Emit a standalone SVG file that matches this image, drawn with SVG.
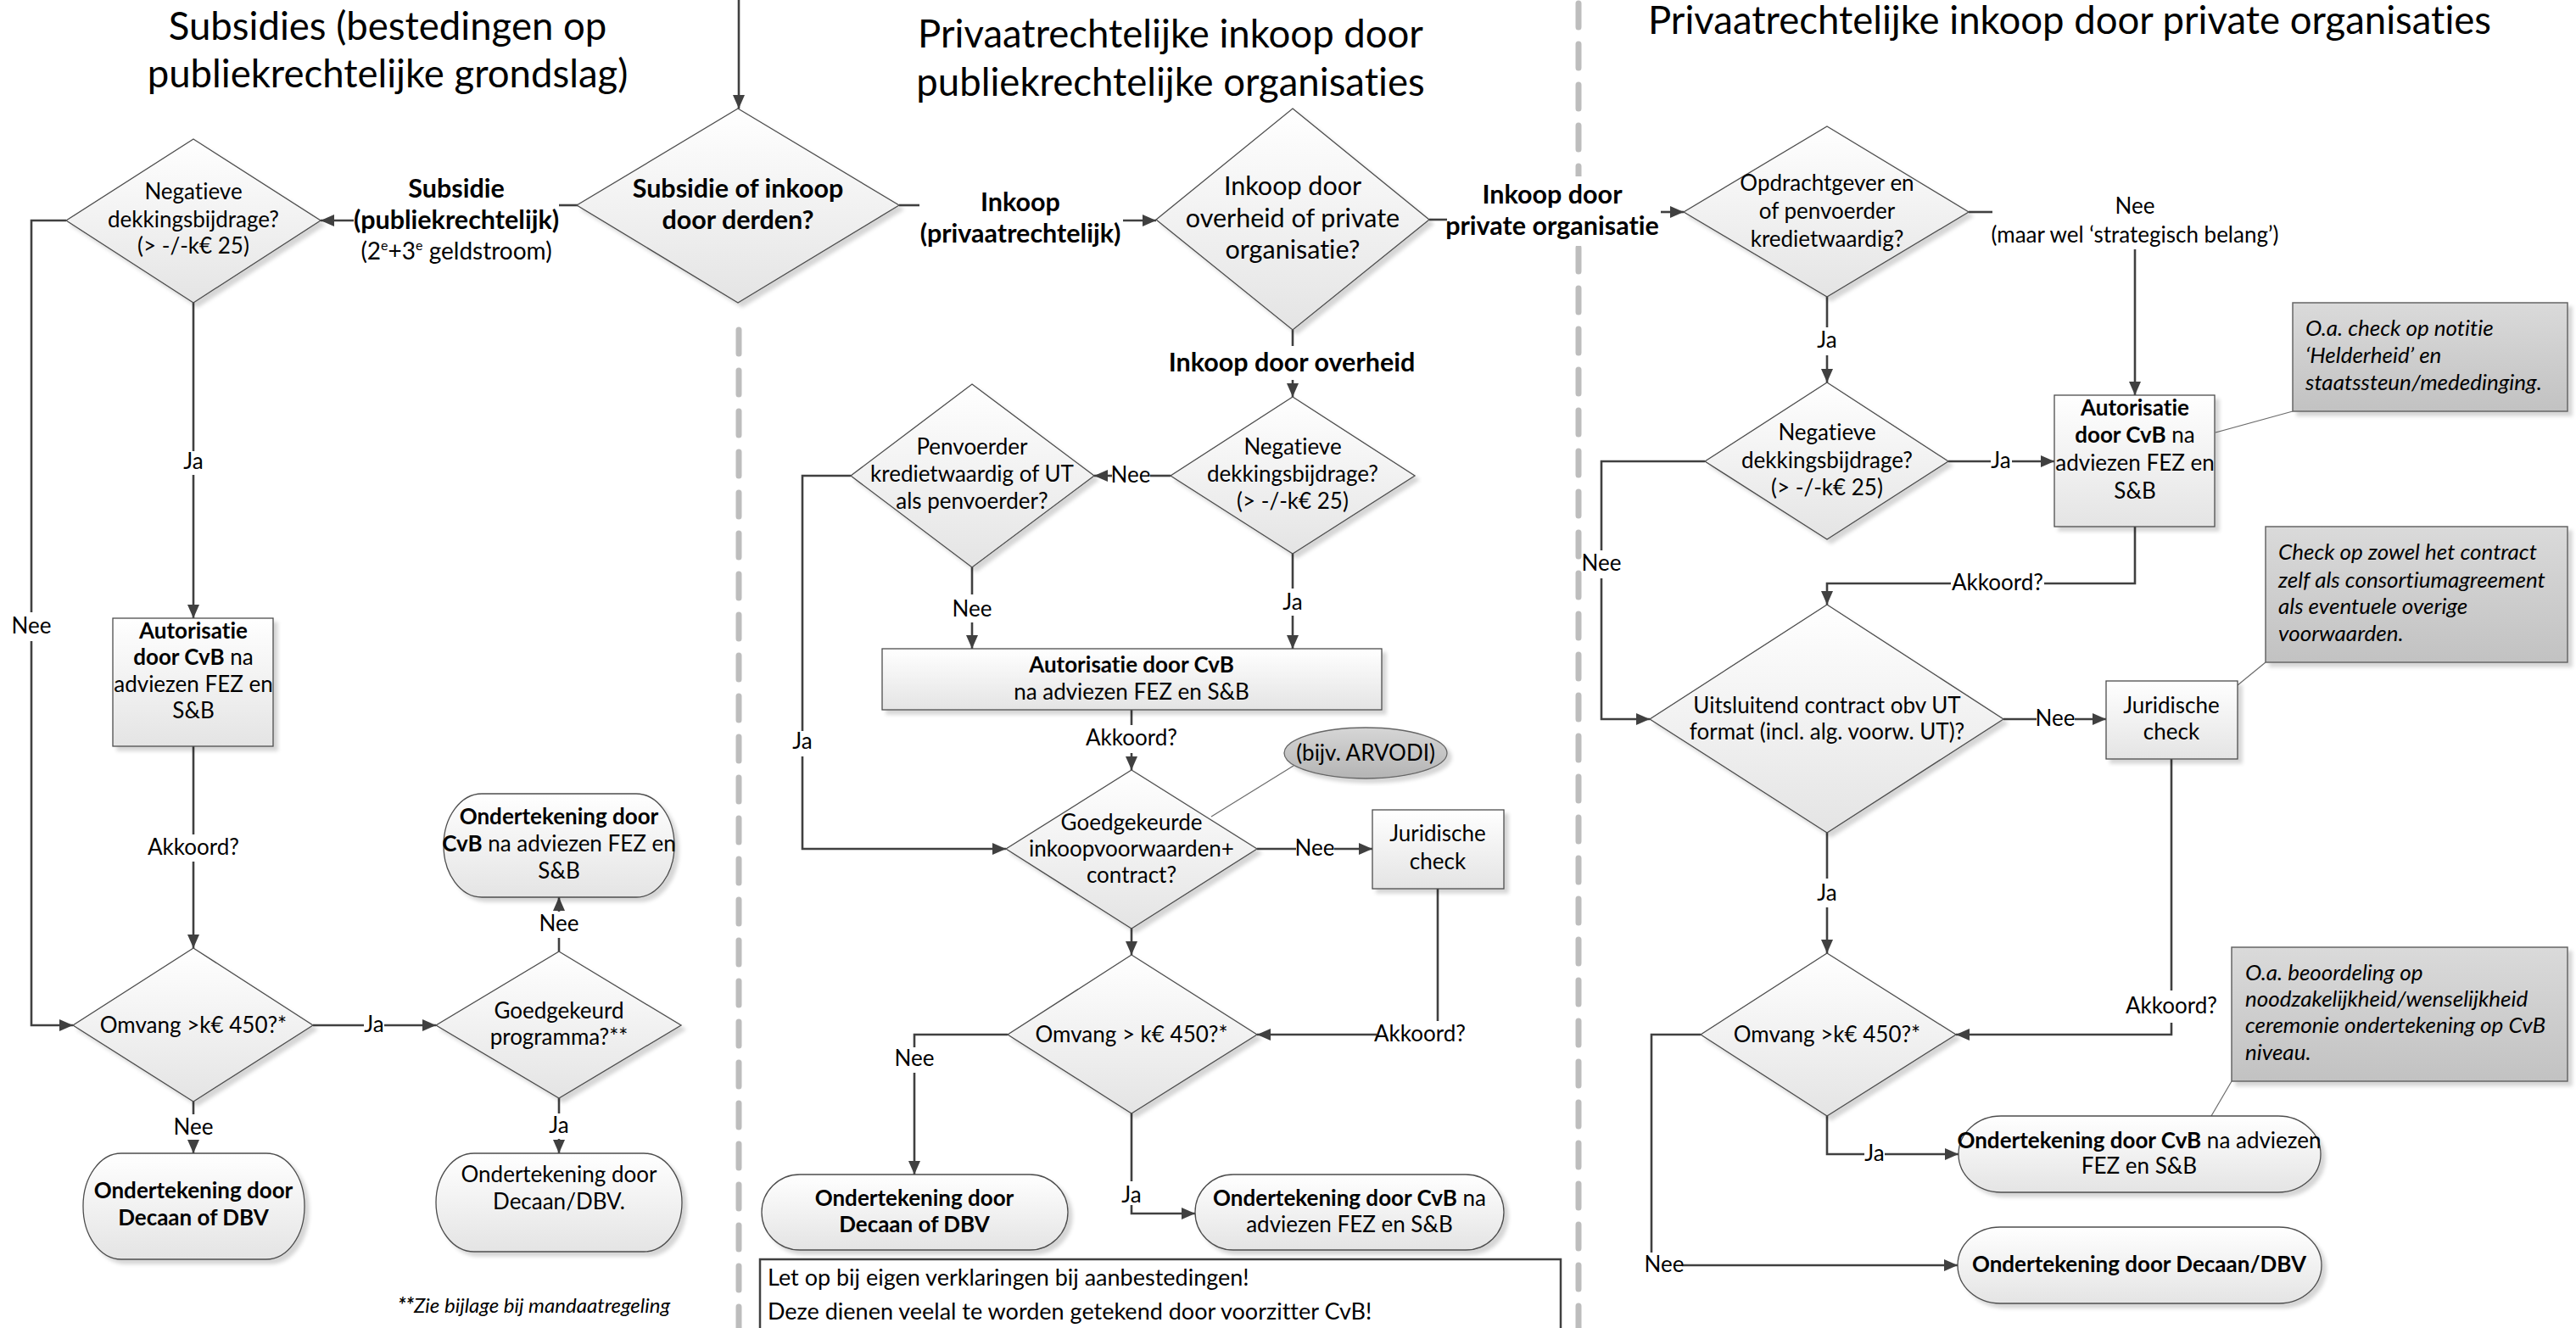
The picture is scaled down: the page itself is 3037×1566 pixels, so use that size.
<svg xmlns="http://www.w3.org/2000/svg" width="3037" height="1566" viewBox="0 0 3037 1566">
<defs>
<linearGradient id="gShape" x1="0" y1="0" x2="0" y2="1"><stop offset="0" stop-color="#ffffff"/><stop offset="1" stop-color="#e4e4e4"/></linearGradient>
<linearGradient id="gNote" x1="0" y1="0" x2="0" y2="1"><stop offset="0" stop-color="#dadada"/><stop offset="1" stop-color="#c2c2c2"/></linearGradient>
<linearGradient id="gEll" x1="0" y1="0" x2="0" y2="1"><stop offset="0" stop-color="#d6d6d6"/><stop offset="1" stop-color="#b4b4b4"/></linearGradient>
<filter id="sh" x="-10%" y="-10%" width="125%" height="125%"><feDropShadow dx="5" dy="5" stdDeviation="2" flood-color="#000" flood-opacity="0.16"/></filter>
<marker id="ar" markerUnits="userSpaceOnUse" viewBox="0 0 16 16" markerWidth="16" markerHeight="16" refX="16" refY="8" orient="auto"><path d="M0,1 L16,8 L0,15 z" fill="#404040"/></marker>
<style>
text{font-family:Lato,"Liberation Sans",sans-serif;fill:#000;font-variant-ligatures:none}
.t{font-size:26px;text-anchor:middle}
.b{font-weight:bold}
.L{font-size:30.5px;text-anchor:middle}
.title{font-size:45.5px;text-anchor:middle}
.it{font-size:26px;font-style:italic}
.shape{fill:url(#gShape);stroke:#4d4d4d;stroke-width:1.3;filter:url(#sh)}
.note{fill:url(#gNote);stroke:#666;stroke-width:1.5;filter:url(#sh)}
.c{fill:none;stroke:#404040;stroke-width:2.6}
.ca{fill:none;stroke:#404040;stroke-width:2.6;marker-end:url(#ar)}
.thin{fill:none;stroke:#6b6b6b;stroke-width:1.2}
.sep{fill:none;stroke:#bdbdbd;stroke-width:7;stroke-linecap:round;stroke-dasharray:28 20}
</style>
</defs>
<rect width="3037" height="1566" fill="#fff"/>

<g id="separators">
<path class="sep" d="M871,389 V1566"/>
<path class="sep" d="M1861,4 V1566"/>
</g>

<g id="titles">
<text class="title" x="457" y="47">Subsidies (bestedingen op</text>
<text class="title" x="457" y="103">publiekrechtelijke grondslag)</text>
<text class="title" x="1380" y="56">Privaatrechtelijke inkoop door</text>
<text class="title" x="1380" y="113">publiekrechtelijke organisaties</text>
<text class="title" x="2440" y="40">Privaatrechtelijke inkoop door private organisaties</text>
</g>

<g id="connectors">
<path class="ca" d="M871,0 V128"/>
<path class="c" d="M681,242 H659"/>
<path class="ca" d="M417,260 H378"/>
<path class="c" d="M228,357 V532"/>
<path class="ca" d="M228,560 V729"/>
<path class="c" d="M78,260 H37 V722"/>
<path class="ca" d="M37,756 V1209 H86"/>
<path class="c" d="M228,880 V984"/>
<path class="ca" d="M228,1016 V1118"/>
<path class="c" d="M369,1209 H429"/>
<path class="ca" d="M453,1209 H514"/>
<path class="c" d="M659,1122 V1106"/>
<path class="ca" d="M659,1075 V1058"/>
<path class="c" d="M659,1295 V1313"/>
<path class="ca" d="M659,1343 V1360"/>
<path class="c" d="M228,1299 V1314"/>
<path class="ca" d="M228,1345 V1360"/>

<path class="c" d="M1060,242 H1084"/>
<path class="ca" d="M1324,260 H1363"/>
<path class="c" d="M1685,259 H1706"/>
<path class="ca" d="M1958,250 H1985"/>
<path class="c" d="M1524,389 V408"/>
<path class="ca" d="M1524,448 V468"/>
<path class="c" d="M1380,561 H1356"/>
<path class="ca" d="M1311,561 H1290"/>
<path class="c" d="M1003,561 H946 V862"/>
<path class="ca" d="M946,892 V1001 H1186"/>
<path class="c" d="M1146,669 V701"/>
<path class="ca" d="M1146,734 V765"/>
<path class="c" d="M1524,653 V694"/>
<path class="ca" d="M1524,726 V765"/>
<path class="c" d="M1334,837 V855"/>
<path class="ca" d="M1334,888 V908"/>
<path class="c" d="M1482,1001 H1528"/>
<path class="ca" d="M1573,1001 H1618"/>
<path class="thin" d="M1525,903 L1428,963"/>
<path class="c" d="M1695,1048 V1204"/>
<path class="ca" d="M1623,1220 H1482"/>
<path class="ca" d="M1334,1095 V1126"/>
<path class="c" d="M1188,1220 H1078 V1235"/>
<path class="ca" d="M1078,1265 V1385"/>
<path class="c" d="M1334,1313 V1393"/>
<path class="ca" d="M1334,1421 V1431 H1409"/>

<path class="c" d="M2321,250 H2349"/>
<path class="ca" d="M2517,294 V466"/>
<path class="c" d="M2154,350 V386"/>
<path class="ca" d="M2154,419 V451"/>
<path class="c" d="M2297,544 H2347"/>
<path class="ca" d="M2372,544 H2422"/>
<path class="thin" d="M2703,485 L2612,510"/>
<path class="c" d="M2010,544 H1888 V649"/>
<path class="ca" d="M1888,682 V848 H1945"/>
<path class="c" d="M2517,621 V688 H2410"/>
<path class="ca" d="M2300,688 H2154 V713"/>
<path class="c" d="M2362,848 H2401"/>
<path class="ca" d="M2446,848 H2483"/>
<path class="thin" d="M2671,781 L2638,808"/>
<path class="c" d="M2560,895 V1168"/>
<path class="ca" d="M2560,1206 V1220 H2306"/>
<path class="c" d="M2154,982 V1036"/>
<path class="ca" d="M2154,1070 V1124"/>
<path class="c" d="M2154,1316 V1361 H2198"/>
<path class="ca" d="M2222,1361 H2309"/>
<path class="c" d="M2005,1220 H1947 V1477"/>
<path class="ca" d="M1983,1492 H2308"/>
<path class="thin" d="M2631,1275 L2607,1316"/>
</g>

<g id="labels">
<text class="L b" x="538" y="233">Subsidie</text>
<text class="L b" x="538" y="270">(publiekrechtelijk)</text>
<text class="t" x="538" y="306" style="font-size:28px">(2<tspan font-size="16" dy="-11">e</tspan><tspan dy="11">+3</tspan><tspan font-size="16" dy="-11">e</tspan><tspan dy="11"> geldstroom)</tspan></text>
<text class="t" x="228" y="553">Ja</text>
<text class="t" x="37" y="747">Nee</text>
<text class="t" x="228" y="1008">Akkoord?</text>
<text class="t" x="441" y="1217">Ja</text>
<text class="t" x="659" y="1098">Nee</text>
<text class="t" x="659" y="1336">Ja</text>
<text class="t" x="228" y="1338">Nee</text>

<text class="L b" x="1203" y="249">Inkoop</text>
<text class="L b" x="1203" y="286">(privaatrechtelijk)</text>
<rect x="1706" y="208" width="252" height="82" fill="#fff"/>
<text class="L b" x="1830" y="240">Inkoop door</text>
<text class="L b" x="1830" y="277">private organisatie</text>
<text class="L b" x="1523" y="438">Inkoop door overheid</text>
<text class="t" x="1333" y="569">Nee</text>
<text class="t" x="946" y="883">Ja</text>
<text class="t" x="1146" y="727">Nee</text>
<text class="t" x="1524" y="719">Ja</text>
<text class="t" x="1334" y="879">Akkoord?</text>
<text class="t" x="1550" y="1009">Nee</text>
<text class="t" x="1674" y="1228">Akkoord?</text>
<text class="t" x="1078" y="1257">Nee</text>
<text class="t" x="1334" y="1418">Ja</text>

<text class="t" x="2517" y="252">Nee</text>
<text class="t" x="2517" y="286">(maar wel ‘strategisch belang’)</text>
<text class="t" x="2154" y="410">Ja</text>
<text class="t" x="2359" y="552">Ja</text>
<text class="t" x="1888" y="673">Nee</text>
<text class="t" x="2355" y="696">Akkoord?</text>
<text class="t" x="2423" y="856">Nee</text>
<text class="t" x="2560" y="1195">Akkoord?</text>
<text class="t" x="2154" y="1062">Ja</text>
<text class="t" x="2210" y="1369">Ja</text>
<text class="t" x="1962" y="1500">Nee</text>
</g>

<g id="n-D0"><polygon class="shape" points="870,128 1060,242 870,357 680,242"/>
<text class="L b" x="870" y="233">Subsidie of inkoop</text><text class="L b" x="870" y="270">door derden?</text></g>

<g id="n-D1"><polygon class="shape" points="228,164 378,260 228,357 78,260"/>
<text class="t" x="228" y="235">Negatieve</text><text class="t" x="228" y="268">dekkingsbijdrage?</text><text class="t" x="228" y="299">(&gt; -/-k€ 25)</text></g>

<g id="n-B1"><rect class="shape" x="133" y="729" width="189" height="151"/>
<text class="t b" x="228" y="753">Autorisatie</text>
<text class="t" x="228" y="784"><tspan font-weight="bold">door CvB</tspan> na</text>
<text class="t" x="228" y="816">adviezen FEZ en</text>
<text class="t" x="228" y="847">S&amp;B</text></g>

<g id="n-D2"><polygon class="shape" points="228,1118 369,1209 228,1299 86,1209"/>
<text class="t" x="228" y="1218">Omvang &gt;k€ 450?*</text></g>

<g id="n-D3"><polygon class="shape" points="659,1122 803,1209 659,1295 514,1209"/>
<text class="t" x="659" y="1201">Goedgekeurd</text><text class="t" x="659" y="1232">programma?**</text></g>

<g id="n-T1"><rect class="shape" x="523" y="936" width="272" height="122" rx="45" ry="61"/>
<text class="t b" x="659" y="972">Ondertekening door</text>
<text class="t" x="659" y="1004"><tspan font-weight="bold">CvB</tspan> na adviezen FEZ en</text>
<text class="t" x="659" y="1036">S&amp;B</text></g>

<g id="n-T2"><rect class="shape" x="514" y="1360" width="290" height="116" rx="45" ry="58"/>
<text class="t" x="659" y="1394">Ondertekening door</text><text class="t" x="659" y="1426">Decaan/DBV.</text></g>

<g id="n-T3"><rect class="shape" x="98" y="1360" width="261" height="125" rx="45" ry="62"/>
<text class="t b" x="228" y="1413">Ondertekening door</text><text class="t b" x="228" y="1445">Decaan of DBV</text></g>

<g id="n-foot"><text class="it" x="469" y="1548" style="font-size:24px"><tspan font-weight="bold">**</tspan>Zie bijlage bij mandaatregeling</text></g>

<g id="n-D4"><polygon class="shape" points="1524,128 1685,259 1524,389 1363,259"/>
<text class="L" x="1524" y="230">Inkoop door</text><text class="L" x="1524" y="268">overheid of private</text><text class="L" x="1524" y="305">organisatie?</text></g>

<g id="n-D6"><polygon class="shape" points="1524,468 1668,561 1524,653 1380,561"/>
<text class="t" x="1524" y="536">Negatieve</text><text class="t" x="1524" y="568">dekkingsbijdrage?</text><text class="t" x="1524" y="600">(&gt; -/-k€ 25)</text></g>

<g id="n-D7"><polygon class="shape" points="1146,453 1290,561 1146,669 1003,561"/>
<text class="t" x="1146" y="536">Penvoerder</text><text class="t" x="1146" y="568">kredietwaardig of UT</text><text class="t" x="1146" y="600">als penvoerder?</text></g>

<g id="n-B2"><rect class="shape" x="1040" y="765" width="589" height="72"/>
<text class="t b" x="1334" y="793">Autorisatie door CvB</text><text class="t" x="1334" y="825">na adviezen FEZ en S&amp;B</text></g>

<g id="n-D8"><polygon class="shape" points="1334,908 1482,1001 1334,1095 1186,1001"/>
<text class="t" x="1334" y="979">Goedgekeurde</text><text class="t" x="1334" y="1010">inkoopvoorwaarden+</text><text class="t" x="1334" y="1041">contract?</text></g>

<g id="n-E1"><ellipse cx="1610" cy="888" rx="96" ry="30" fill="url(#gEll)" stroke="#666" stroke-width="1.3" filter="url(#sh)"/>
<text class="t" x="1610" y="897">(bijv. ARVODI)</text></g>

<g id="n-J1"><rect class="shape" x="1618" y="955" width="155" height="93"/>
<text class="t" x="1695" y="992">Juridische</text><text class="t" x="1695" y="1025">check</text></g>

<g id="n-D9"><polygon class="shape" points="1334,1126 1482,1220 1334,1313 1188,1220"/>
<text class="t" x="1334" y="1229">Omvang &gt; k€ 450?*</text></g>

<g id="n-T4"><rect class="shape" x="898" y="1385" width="361" height="89" rx="45" ry="44.5"/>
<text class="t b" x="1078" y="1422">Ondertekening door</text><text class="t b" x="1078" y="1453">Decaan of DBV</text></g>

<g id="n-T5"><rect class="shape" x="1409" y="1385" width="364" height="89" rx="45" ry="44.5"/>
<text class="t" x="1591" y="1422"><tspan font-weight="bold">Ondertekening door CvB</tspan> na</text><text class="t" x="1591" y="1453">adviezen FEZ en S&amp;B</text></g>

<g id="n-N1"><rect x="896" y="1485" width="944" height="110" fill="#fff" stroke="#404040" stroke-width="2.5"/>
<text x="905" y="1516" style="font-size:27px">Let op bij eigen verklaringen bij aanbestedingen!</text>
<text x="905" y="1556" style="font-size:27px">Deze dienen veelal te worden getekend door voorzitter CvB!</text></g>

<g id="n-D5"><polygon class="shape" points="2154,149 2321,250 2154,350 1985,250"/>
<text class="t" x="2154" y="225">Opdrachtgever en</text><text class="t" x="2154" y="258">of penvoerder</text><text class="t" x="2154" y="291">kredietwaardig?</text></g>

<g id="n-D10"><polygon class="shape" points="2154,451 2297,544 2154,636 2010,544"/>
<text class="t" x="2154" y="519">Negatieve</text><text class="t" x="2154" y="552">dekkingsbijdrage?</text><text class="t" x="2154" y="584">(&gt; -/-k€ 25)</text></g>

<g id="n-B3"><rect class="shape" x="2422" y="466" width="189" height="155"/>
<text class="t b" x="2517" y="490">Autorisatie</text>
<text class="t" x="2517" y="522"><tspan font-weight="bold">door CvB</tspan> na</text>
<text class="t" x="2517" y="555">adviezen FEZ en</text>
<text class="t" x="2517" y="588">S&amp;B</text></g>

<g id="n-N2"><rect class="note" x="2703" y="357" width="324" height="128"/>
<text class="it" x="2718" y="396">O.a. check op notitie</text>
<text class="it" x="2718" y="428">‘Helderheid’ en</text>
<text class="it" x="2718" y="460">staatssteun/mededinging.</text></g>

<g id="n-D11"><polygon class="shape" points="2154,713 2362,848 2154,982 1945,848"/>
<text class="t" x="2154" y="841">Uitsluitend contract obv UT</text><text class="t" x="2154" y="872">format (incl. alg. voorw. UT)?</text></g>

<g id="n-J2"><rect class="shape" x="2483" y="803" width="155" height="92"/>
<text class="t" x="2560" y="841">Juridische</text><text class="t" x="2560" y="872">check</text></g>

<g id="n-N3"><rect class="note" x="2671" y="621" width="356" height="160"/>
<text class="it" x="2686" y="660">Check op zowel het contract</text>
<text class="it" x="2686" y="693">zelf als consortiumagreement</text>
<text class="it" x="2686" y="724">als eventuele overige</text>
<text class="it" x="2686" y="756">voorwaarden.</text></g>

<g id="n-D12"><polygon class="shape" points="2154,1124 2306,1220 2154,1316 2005,1220"/>
<text class="t" x="2154" y="1229">Omvang &gt;k€ 450?*</text></g>

<g id="n-T6"><rect class="shape" x="2309" y="1316" width="427" height="90" rx="50" ry="45"/>
<text class="t" x="2522" y="1354"><tspan font-weight="bold">Ondertekening door CvB</tspan> na adviezen</text><text class="t" x="2522" y="1384">FEZ en S&amp;B</text></g>

<g id="n-T7"><rect class="shape" x="2308" y="1447" width="429" height="90" rx="50" ry="45"/>
<text class="t b" x="2522" y="1500">Ondertekening door Decaan/DBV</text></g>

<g id="n-N4"><rect class="note" x="2631" y="1117" width="396" height="158"/>
<text class="it" x="2647" y="1156">O.a. beoordeling op</text>
<text class="it" x="2647" y="1187">noodzakelijkheid/wenselijkheid</text>
<text class="it" x="2647" y="1218">ceremonie ondertekening op CvB</text>
<text class="it" x="2647" y="1250">niveau.</text></g>
</svg>
